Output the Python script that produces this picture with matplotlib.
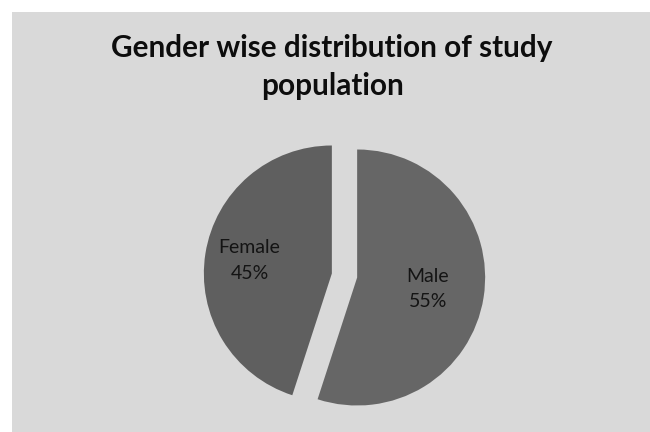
import matplotlib.pyplot as plt
from matplotlib.patches import Rectangle

labels = ["Male", "Female"]
shares = [55, 45]
colors = ["#666666", "#5f5f5f"]
explode = [0.1, 0.1]
title = "Gender wise distribution of study\npopulation"

plt.rcParams["font.family"] = ["Lato", "DejaVu Sans"]

fig = plt.figure(figsize=(6.5, 4.32), dpi=100)
fig.patch.set_facecolor("white")
fig.patches.append(
        Rectangle((12 / 650, 0), 1, 1 - 12 / 432, transform=fig.transFigure,
                  facecolor="#d9d9d9", edgecolor="none", zorder=-5)
)

fig.text(0.511, 0.845, title, ha="center", va="center", fontsize=21.4,
         fontweight="bold", color="#0d0d0d", linespacing=1.45)

# radius 1 -> 128 px
size_px = 2.4 * 128
cx, cy = 344.5, 432 - 275.5
ax = fig.add_axes([(cx - size_px / 2) / 650, (cy - size_px / 2) / 432,
                   size_px / 650, size_px / 432])
ax.set_zorder(2)

texts_lbl = [f"{l}\n{s}%" for l, s in zip(labels, shares)]
wedges, texts = ax.pie(shares, labels=texts_lbl, colors=colors, explode=explode,
                       startangle=90, counterclock=False, labeldistance=0.6,
                       radius=1, textprops=dict(fontsize=14, color="#141414",
                                                ha="center", va="center",
                                                linespacing=1.6))
ax.set_xlim(-1.2, 1.2)
ax.set_ylim(-1.2, 1.2)
ax.axis("off")
for w in wedges:
        w.set_edgecolor("none")

# label distances differ a little per slice
for w, t, f in zip(wedges, texts, [0.56 / 0.6, 0.65 / 0.6]):
        x0, y0 = w.center
        x, y = t.get_position()
        t.set_position((x0 + (x - x0) * f, y0 + (y - y0) * f))
        t.set_ha("center")
        t.set_va("center")

fig.savefig("out.png", dpi=100, facecolor=fig.get_facecolor())
